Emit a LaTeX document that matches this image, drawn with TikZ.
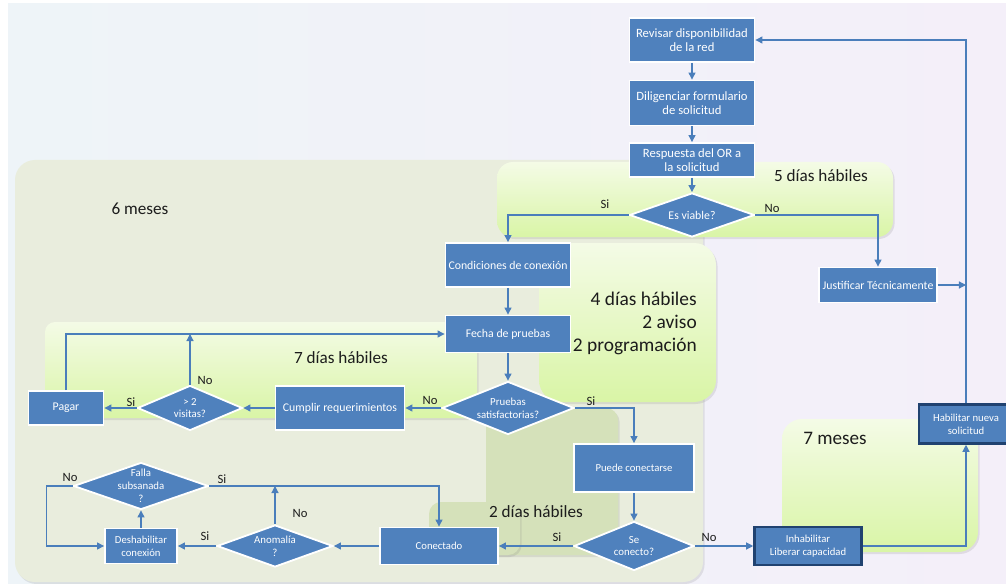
\documentclass[tikz,border=0pt]{standalone}
\usepackage{fontspec}
\setmainfont{Carlito}
\usetikzlibrary{shapes.geometric,arrows.meta,shadows}

\definecolor{cajaazul}{RGB}{79,129,189}
\definecolor{bordeosc}{RGB}{32,66,112}
\definecolor{flecha}{RGB}{74,126,187}
\definecolor{fondoizq}{RGB}{238,244,248}
\definecolor{fondoder}{RGB}{244,239,249}
\definecolor{olivo}{RGB}{233,237,221}
\definecolor{olivooscuro}{RGB}{213,225,186}
\definecolor{verdearriba}{RGB}{244,251,230}
\definecolor{verdeabajo}{RGB}{217,245,166}
\definecolor{texto}{RGB}{28,28,28}

\begin{document}
\begin{tikzpicture}[x=0.025cm,y=-0.025cm]
	\tikzstyle{every node}+=[inner sep=1pt]
	\tikzstyle{caja}=[rectangle, fill=cajaazul, draw=white, line width=1.3pt, text=white, align=center, font=\fontsize{8.4}{9.6}\selectfont]
	\tikzstyle{cajagrande}=[caja, font=\fontsize{9}{10.2}\selectfont]
	\tikzstyle{cajachica}=[caja, font=\fontsize{7.6}{9.2}\selectfont]
	\tikzstyle{cajaosc}=[cajachica, draw=bordeosc, line width=1.8pt]
	\tikzstyle{rombo}=[diamond, fill=cajaazul, draw=white, line width=1.3pt, inner sep=0pt]
	\tikzstyle{txtrombo}=[text=white, align=center, inner sep=0pt, font=\fontsize{7.7}{9.2}\selectfont]
	\tikzstyle{flujo}=[draw=flecha, line width=0.8pt, -{Triangle[length=5pt,width=5pt]}]
	\tikzstyle{sino}=[text=texto, inner sep=0pt, font=\fontsize{9}{10}\selectfont]
	\tikzstyle{plazo}=[text=texto, inner sep=0pt, font=\fontsize{12.2}{14}\selectfont]
	\tikzstyle{panel}=[drop shadow={opacity=0.18, shadow xshift=0.04cm, shadow yshift=-0.05cm}]
	\tikzstyle{panelverde}=[panel, top color=verdearriba, bottom color=verdeabajo]

	\useasboundingbox (0,0) rectangle (1006,584);
	\clip (0,0) rectangle (1006,584);
	\fill [white] (0,0) rectangle (1006,584);
	\shade [left color=fondoizq, right color=fondoder] (8,4) rectangle (1006,584);

	% plazos
	\fill [panel, olivo, rounded corners=0.5cm] (15,160) rectangle (703,582);
	\shade [panelverde, rounded corners=0.25cm] (45,322) rectangle (477,418);
	\fill [panel, olivooscuro, rounded corners=0.3cm] (486,408) rectangle (618,555);
	\fill [panel, olivooscuro, rounded corners=0.3cm] (429,502) rectangle (520,555);
	\shade [panelverde, rounded corners=0.4cm] (497,162) rectangle (893,237);
	\shade [panelverde, rounded corners=0.55cm] (539,243) rectangle (716,402);
	\shade [panelverde, rounded corners=0.5cm] (782,419) rectangle (978,552);

	\node [plazo] (seismeses) at (140,209) {6 meses};
	\node [plazo] (cincodias) at (821,176) {5 días hábiles};
	\node [plazo, anchor=east, align=right, font=\fontsize{13.8}{16.4}\selectfont] (cuatrodias) at (697,323) {4 días hábiles\\2 aviso\\2 programación};
	\node [plazo] (sietedias) at (341,358) {7 días hábiles};
	\node [plazo] (dosdias) at (536,512) {2 días hábiles};
	\node [plazo, font=\fontsize{13.6}{15}\selectfont] (sietemeses) at (835,438) {7 meses};

	% pasos
	\node [cajagrande, minimum width=3.125cm, minimum height=1.1cm] (revisar) at (692,40) {Revisar disponibilidad\\de la red};
	\node [cajagrande, minimum width=3.125cm, minimum height=1.125cm] (diligenciar) at (692,103) {Diligenciar formulario\\de solicitud};
	\node [cajagrande, minimum width=3.125cm, minimum height=0.85cm] (respuesta) at (692,160) {Respuesta del OR a\\la solicitud};
	\node [rombo, minimum width=3.125cm, minimum height=1.1cm, label={[txtrombo, font=\fontsize{8.4}{9.6}\selectfont]center:Es viable?}] (viable) at (692,215) {};
	\node [caja, minimum width=3.125cm, minimum height=1.1cm] (condiciones) at (508,265) {Condiciones de conexión};
	\node [caja, minimum width=3.125cm, minimum height=0.925cm] (fecha) at (508,334) {Fecha de pruebas};
	\node [rombo, minimum width=3.3cm, minimum height=1.325cm, label={[txtrombo]center:Pruebas\\satisfactorias?}] (pruebas) at (508,408) {};
	\node [caja, minimum width=3.225cm, minimum height=1.1cm] (cumplir) at (340,408) {Cumplir requerimientos};
	\node [rombo, minimum width=2.625cm, minimum height=1.125cm, label={[txtrombo]center:> 2\\visitas?}] (visitas) at (190,408) {};
	\node [caja, minimum width=1.875cm, minimum height=0.85cm] (pagar) at (66,408) {Pagar};
	\node [caja, minimum width=2.95cm, minimum height=0.875cm] (justificar) at (878,285) {Justificar Técnicamente};
	\node [cajachica, minimum width=3cm, minimum height=1.2cm] (puede) at (634,468) {Puede conectarse};
	\node [rombo, minimum width=3cm, minimum height=1.225cm, label={[txtrombo]center:Se\\conecto?}] (seconecto) at (634,546) {};
	\node [cajachica, minimum width=2.95cm, minimum height=0.925cm] (conectado) at (439,546) {Conectado};
	\node [rombo, minimum width=2.9cm, minimum height=1.05cm, label={[txtrombo]center:Anomalía\\?}] (anomalia) at (275,546) {};
	\node [cajachica, minimum width=1.8cm, minimum height=0.875cm] (deshabilitar) at (141,546) {Deshabilitar\\conexión};
	\node [rombo, minimum width=3.375cm, minimum height=1.175cm, label={[txtrombo]center:Falla\\subsanada\\?}] (falla) at (141,486) {};
	\node [cajaosc, minimum width=2.675cm, minimum height=0.95cm] (inhabilitar) at (808,546) {Inhabilitar\\Liberar capacidad};
	\node [cajaosc, minimum width=2.35cm, minimum height=0.975cm] (habilitar) at (966,424) {Habilitar nueva\\solicitud};

	% conexiones
	\draw [flujo] (revisar) -- (diligenciar);
	\draw [flujo] (diligenciar) -- (respuesta);
	\draw [flujo] (respuesta) -- (viable);
	\draw [flujo] (viable.west) -| (condiciones.north);
	\draw [flujo] (viable.east) -| (justificar.north);
	\draw [flujo] (condiciones) -- (fecha);
	\draw [flujo] (fecha) -- (pruebas);
	\draw [flujo] (pruebas.west) -- (cumplir.east);
	\draw [flujo] (pruebas.east) -| (puede.north);
	\draw [flujo] (cumplir.west) -- (visitas.east);
	\draw [flujo] (visitas.west) -- (pagar.east);
	\draw [flujo] (visitas.north) -- (visitas.north |- fecha.west);
	\draw [flujo] (pagar.north) |- (fecha.west);
	\draw [flujo] (puede) -- (seconecto);
	\draw [flujo] (seconecto.west) -- (conectado.east);
	\draw [flujo] (seconecto.east) -- (inhabilitar.west);
	\draw [flujo] (inhabilitar.east) -| (habilitar.south);
	\draw [flujo] (habilitar.north) |- (revisar.east);
	\draw [flujo] (justificar.east) -- (justificar.east -| habilitar.north);
	\draw [flujo] (conectado.west) -- (anomalia.east);
	\draw [flujo] (anomalia.west) -- (deshabilitar.east);
	\draw [flujo] (anomalia.north) -- (anomalia.north |- falla.east);
	\draw [flujo] (deshabilitar) -- (falla);
	\draw [flujo] (falla.east) -| (conectado.north);
	\draw [flujo] (falla.west) -- ++(-26,0) |- (deshabilitar.west);

	\node [sino] (siviable) at (605,204) {Si};
	\node [sino] (noviable) at (772,208) {No};
	\node [sino] (nopruebas) at (430,400) {No};
	\node [sino] (sipruebas) at (591,401) {Si};
	\node [sino] (sivisitas) at (131,402) {Si};
	\node [sino] (novisitas) at (205,380) {No};
	\node [sino] (nofalla) at (70,477) {No};
	\node [sino] (sifalla) at (222,479) {Si};
	\node [sino] (sianomalia) at (205,536) {Si};
	\node [sino] (noanomalia) at (300,513) {No};
	\node [sino] (siconecto) at (557,537) {Si};
	\node [sino] (noconecto) at (709,537) {No};
\end{tikzpicture}
\end{document}
